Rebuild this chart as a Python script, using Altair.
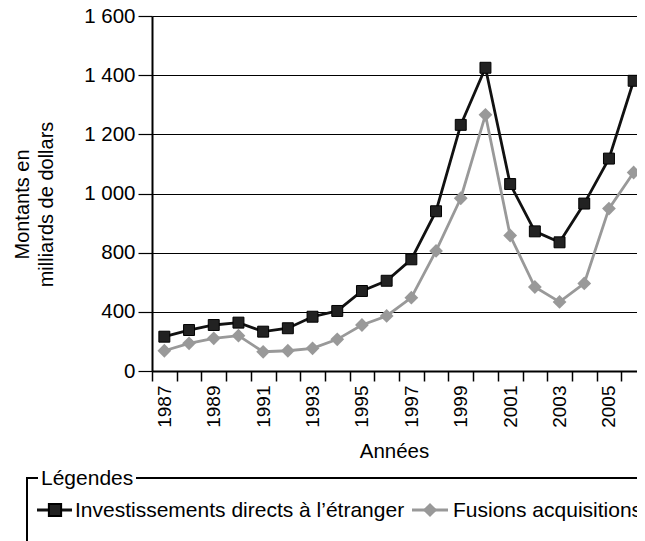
import altair as alt
import pandas as pd

years = list(range(1987, 2007))
ide = [232, 277, 311, 327, 266, 289, 367, 406, 541, 610, 755, 940, 1232, 1425, 1032, 872, 835, 966, 1118, 1381]
fusions = [137, 187, 221, 239, 130, 137, 153, 214, 311, 372, 496, 806, 984, 1266, 858, 568, 467, 592, 949, 1071]
series_names = ["Investissements directs à l’étranger", "Fusions acquisitions"]
y_ticks = [0, 400, 800, 1000, 1200, 1400, 1600]

W = 485
H = 355
BAND_RANGE = 494
FONT = "Liberation Sans"
FS = 20

df_ide = pd.DataFrame({"year": years, "value": ide})
df_fus = pd.DataFrame({"year": years, "value": fusions})

x_enc = alt.X(
    "year:O",
    scale=alt.Scale(range=[0, BAND_RANGE], paddingInner=0, paddingOuter=0),
    axis=alt.Axis(
        title="Années",
        titleFont=FONT, titleFontSize=20.5, titleFontWeight="normal", titleColor="#000",
        titleX=242, titleY=86, titleBaseline="alphabetic", titleAlign="center",
        labelAngle=270, labelFont=FONT, labelFontSize=19, labelColor="#000",
        labelPadding=4, labelExpr="datum.value % 2 == 1 ? datum.label : ''",
        tickBand="extent", tickSize=10, tickColor="#000", tickWidth=1.5,
        domainColor="#000", domainWidth=2, grid=False, labelOverlap=False,
    ),
)
y_enc = alt.Y(
    "value:Q",
    scale=alt.Scale(domain=[0, 800, 1600], range=[H, H * 4 / 6, 0], nice=False, zero=False),
    axis=alt.Axis(
        title=["Montants en", "milliards de dollars"],
        titleFont=FONT, titleFontSize=FS, titleFontWeight="normal", titleColor="#000",
        titleAngle=270, titleX=-124, titleY=188, titleAlign="center",
        titleBaseline="alphabetic", titleLineHeight=24,
        values=y_ticks, labelFont=FONT, labelFontSize=20.5, labelColor="#000",
        labelExpr="replace(format(datum.value, ','), ',', ' ')",
        labelPadding=3, tickSize=14, tickColor="#000", tickWidth=1.2,
        domainColor="#000", domainWidth=2,
        grid=True, gridColor="#000", gridWidth=1.2, gridOpacity=1,
    ),
)

GRAY = "#999999"
DARK = "#111111"

fus_line = alt.Chart(df_fus).mark_line(color=GRAY, strokeWidth=2.8).encode(x=x_enc, y=y_enc)
fus_pts = alt.Chart(df_fus).mark_point(shape="diamond", filled=True, color=GRAY, size=190, opacity=1).encode(x=x_enc, y=y_enc)
ide_line = alt.Chart(df_ide).mark_line(color=DARK, strokeWidth=2.8).encode(x=x_enc, y=y_enc)
ide_pts = alt.Chart(df_ide).mark_point(shape="square", filled=True, fill="#222222", stroke="#000000", strokeWidth=1, size=120, opacity=1).encode(x=x_enc, y=y_enc)

one = pd.DataFrame({"k": [0]})
LY = 462
IY = 494
LFS = 21
leg = [
    alt.Chart(one).mark_rule(color="#000", strokeWidth=2).encode(x=alt.value(-125), x2=alt.value(-114), y=alt.value(LY)),
    alt.Chart(one).mark_rule(color="#000", strokeWidth=2).encode(x=alt.value(-16), x2=alt.value(520), y=alt.value(LY)),
    alt.Chart(one).mark_rule(color="#000", strokeWidth=2).encode(x=alt.value(-125), y=alt.value(LY - 1), y2=alt.value(560)),
    alt.Chart(one).mark_text(text="Légendes", align="left", baseline="middle", font=FONT, fontSize=LFS, color="#000").encode(x=alt.value(-111), y=alt.value(LY + 1)),
    alt.Chart(one).mark_rule(color=DARK, strokeWidth=2.8).encode(x=alt.value(-115), x2=alt.value(-80), y=alt.value(IY)),
    alt.Chart(one).mark_point(shape="square", filled=True, fill="#222222", stroke="#000", size=150, opacity=1).encode(x=alt.value(-97), y=alt.value(IY)),
    alt.Chart(one).mark_text(text=series_names[0], align="left", baseline="middle", font=FONT, fontSize=LFS, color="#000").encode(x=alt.value(-77), y=alt.value(IY + 1)),
    alt.Chart(one).mark_rule(color=GRAY, strokeWidth=2.8).encode(x=alt.value(260), x2=alt.value(296), y=alt.value(IY)),
    alt.Chart(one).mark_point(shape="diamond", filled=True, color=GRAY, size=200, opacity=1).encode(x=alt.value(278), y=alt.value(IY)),
    alt.Chart(one).mark_text(text=series_names[1], align="left", baseline="middle", font=FONT, fontSize=LFS, color="#000").encode(x=alt.value(301), y=alt.value(IY + 1)),
]

chart = alt.layer(fus_line, fus_pts, ide_line, ide_pts, *leg).properties(
    width=W, height=H,
    autosize=alt.AutoSizeParams(type="none"),
    padding={"left": 144, "top": 8, "right": 0, "bottom": 170},
).configure_view(stroke=None).configure(background="white")

chart.save("out.html", embed_options={"renderer": "svg", "actions": False})
